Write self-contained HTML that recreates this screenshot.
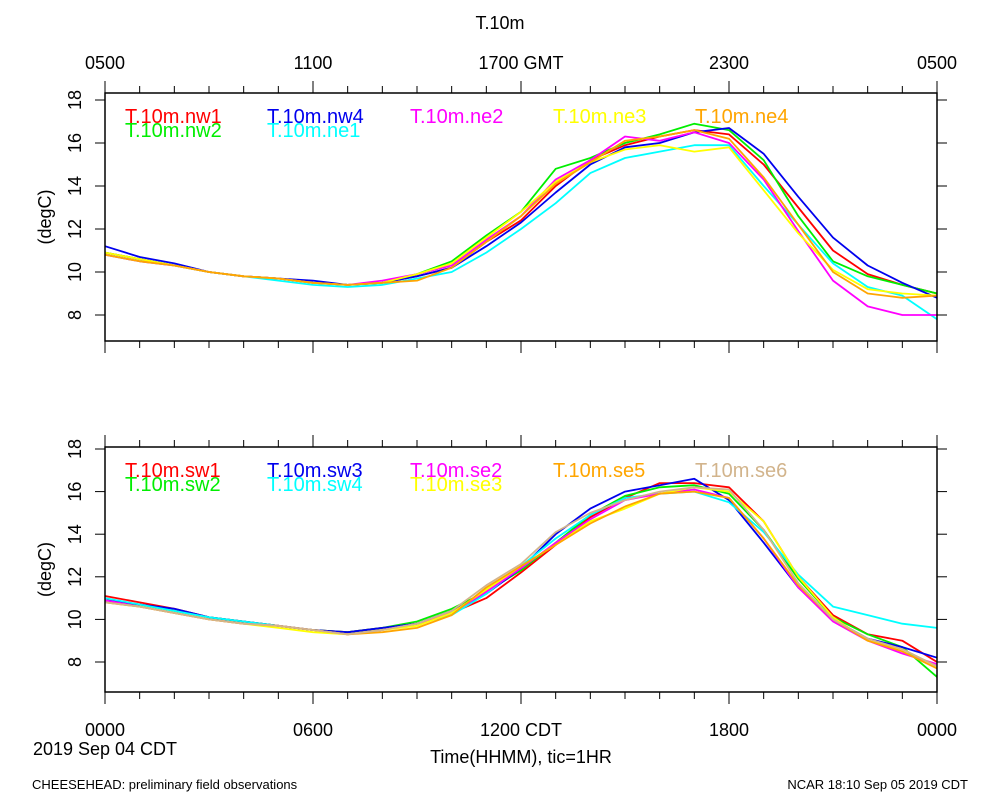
<!DOCTYPE html>
<html><head><meta charset="utf-8">
<style>
body{margin:0;background:#fff;}
svg{display:block;font-family:"Liberation Sans",sans-serif;}
</style></head>
<body>
<svg id="chart" width="1000" height="800" viewBox="0 0 1000 800">
<text x="500" y="29" font-size="18" text-anchor="middle">T.10m</text>
<g id="top-labels" font-size="18" text-anchor="middle"></g>
<g id="panel-top"></g>
<g id="panel-bottom"></g>
<text x="105" y="755" font-size="18" text-anchor="middle">2019 Sep 04 CDT</text>
<text x="521" y="763" font-size="18" text-anchor="middle">Time(HHMM), tic=1HR</text>
<text x="32" y="789" font-size="13">CHEESEHEAD: preliminary field observations</text>
<text x="968" y="789" font-size="13" text-anchor="end">NCAR 18:10 Sep 05 2019 CDT</text>
</svg>
<script>
const hours = [0,1,2,3,4,5,6,7,8,9,10,11,12,13,14,15,16,17,18,19,20,21,22,23,24];
const topTickLabels = ["0500","1100","1700 GMT","2300","0500"];
const bottomTickLabels = ["0000","0600","1200 CDT","1800","0000"];
const yTicks = [8,10,12,14,16,18];

const topNames = ["T.10m.nw1","T.10m.nw2","T.10m.nw4","T.10m.ne1","T.10m.ne2","T.10m.ne3","T.10m.ne4"];
const topColors = ["#ff0000","#00ee00","#0000ee","#00ffff","#ff00ff","#ffff00","#ffa500"];
const nw1 = [10.9,10.6,10.3,10.0,9.8,9.7,9.5,9.4,9.5,9.8,10.2,11.4,12.4,14.0,15.2,15.9,16.3,16.6,16.4,15.0,13.0,11.0,9.9,9.4,9.0];
const nw2 = [10.9,10.6,10.3,10.0,9.8,9.7,9.5,9.4,9.5,9.9,10.5,11.7,12.8,14.8,15.3,16.0,16.4,16.9,16.6,15.2,12.6,10.5,9.8,9.4,9.0];
const nw4 = [11.2,10.7,10.4,10.0,9.8,9.7,9.6,9.4,9.5,9.8,10.2,11.2,12.3,13.7,15.0,15.8,16.0,16.5,16.7,15.5,13.5,11.6,10.3,9.5,8.8];
const ne1 = [10.8,10.5,10.3,10.0,9.8,9.6,9.4,9.3,9.4,9.7,10.0,10.9,12.0,13.2,14.6,15.3,15.6,15.9,15.9,14.0,12.2,10.4,9.3,8.9,7.8];
const ne2 = [10.8,10.5,10.3,10.0,9.8,9.7,9.5,9.4,9.6,9.9,10.3,11.5,12.6,14.3,15.2,16.3,16.1,16.5,16.0,14.3,11.9,9.6,8.4,8.0,8.0];
const ne3 = [10.9,10.6,10.3,10.0,9.8,9.7,9.5,9.4,9.5,9.9,10.4,11.6,12.8,14.2,15.1,15.7,15.9,15.6,15.8,13.8,11.8,10.1,9.2,9.0,8.9];
const ne4 = [10.8,10.5,10.3,10.0,9.8,9.7,9.5,9.4,9.5,9.6,10.2,11.4,12.6,14.1,15.1,16.1,16.3,16.6,16.2,14.4,12.2,10.0,9.0,8.8,8.9];
const topSeries = [nw1,nw2,nw4,ne1,ne2,ne3,ne4];

const botNames = ["T.10m.sw1","T.10m.sw2","T.10m.sw3","T.10m.sw4","T.10m.se2","T.10m.se3","T.10m.se5","T.10m.se6"];
const botColors = ["#ff0000","#00ee00","#0000ee","#00ffff","#ff00ff","#ffff00","#ffa500","#d2b48c"];
const sw1 = [11.1,10.8,10.5,10.1,9.9,9.7,9.5,9.4,9.6,9.8,10.3,11.0,12.2,13.5,14.8,15.7,16.4,16.4,16.2,14.6,12.0,10.2,9.3,9.0,8.0];
const sw2 = [10.9,10.7,10.4,10.1,9.9,9.7,9.5,9.4,9.6,9.9,10.5,11.3,12.3,13.6,14.9,15.8,16.2,16.3,15.9,14.2,11.9,10.1,9.3,8.7,7.3];
const sw3 = [10.9,10.7,10.5,10.1,9.9,9.7,9.5,9.4,9.6,9.8,10.4,11.2,12.4,14.0,15.2,16.0,16.3,16.6,15.6,13.6,11.5,10.0,9.1,8.7,8.2];
const sw4 = [11.0,10.7,10.4,10.1,9.9,9.7,9.5,9.3,9.5,9.8,10.2,11.2,12.5,13.8,14.9,15.7,15.9,16.0,15.5,14.1,12.1,10.6,10.2,9.8,9.6];
const se2 = [10.9,10.6,10.3,10.0,9.8,9.7,9.5,9.3,9.5,9.8,10.3,11.3,12.4,13.6,14.7,15.6,15.9,16.1,15.7,13.8,11.5,9.9,9.0,8.4,7.9];
const se3 = [10.8,10.6,10.3,10.0,9.8,9.6,9.4,9.3,9.5,9.7,10.3,11.4,12.5,13.5,14.6,15.2,15.9,16.2,16.0,14.6,12.0,10.1,9.0,8.6,7.8];
const se5 = [10.8,10.6,10.3,10.0,9.8,9.7,9.5,9.3,9.4,9.6,10.2,11.5,12.5,13.5,14.5,15.3,15.9,16.0,15.7,13.8,11.6,10.0,9.0,8.5,7.7];
const se6 = [10.8,10.6,10.3,10.0,9.8,9.7,9.5,9.3,9.5,9.8,10.4,11.6,12.6,14.1,15.0,15.6,16.0,16.2,16.1,14.2,11.7,10.0,9.1,8.6,7.8];
const botSeries = [sw1,sw2,sw3,sw4,se2,se3,se5,se6];

const NS = "http://www.w3.org/2000/svg";
const X0 = 105, X1 = 937;
function xScale(h){ return X0 + (X1 - X0) * h / 24; }
function mk(tag, attrs, parent){
  const e = document.createElementNS(NS, tag);
  for (const k in attrs) e.setAttribute(k, attrs[k]);
  parent.appendChild(e);
  return e;
}

function drawPanel(g, top, bottom, y18, y8, series, colors, names, tickLabels, prefix){
  const ppu = (y8 - y18) / 10;
  const yScale = v => y8 - (v - 8) * ppu;
  series.forEach((s, i) => {
    const d = s.map((v, j) => (j ? "L" : "M") + xScale(hours[j]).toFixed(1) + "," + yScale(v).toFixed(1)).join(" ");
    const p = mk("path", {d: d, fill: "none", stroke: colors[i], "stroke-width": 1.8, "stroke-linejoin": "round"}, g);
    
    
  });
  const f = mk("rect", {x: X0, y: top, width: X1 - X0, height: bottom - top, fill: "none", stroke: "#000", "stroke-width": 1.5}, g);
  
  
  for (let h = 0; h <= 24; h++){
    const x = xScale(h), len = h % 6 === 0 ? 12 : 7;
    const t1 = mk("line", {x1: x, x2: x, y1: top, y2: top - len, stroke: "#000", "stroke-width": 1}, g);
    
    
    const t2 = mk("line", {x1: x, x2: x, y1: bottom, y2: bottom + len, stroke: "#000", "stroke-width": 1}, g);
    
    
  }
  yTicks.forEach(v => {
    const y = yScale(v);
    const a = mk("line", {x1: X0, x2: X0 - 10, y1: y, y2: y, stroke: "#000", "stroke-width": 1}, g);
    
    
    const b = mk("line", {x1: X1, x2: X1 + 10, y1: y, y2: y, stroke: "#000", "stroke-width": 1}, g);
    
    
    const t = mk("text", {x: 0, y: 0, "font-size": 18, "text-anchor": "middle", transform: "translate(81," + y + ") rotate(-90)"}, g);
    t.setAttribute("transform", "translate(81," + y + ") rotate(-90)");
    t.setAttribute("transform", "translate(81," + y + ") rotate(-90)");
    t.setAttribute("transform", "translate(" + 81 + "," + y + ") rotate(-90)");
    t.setAttribute("transform", "translate(81," + y + ") rotate(-90)");
    t.setAttribute("transform", "translate(81," + y + ") rotate(-90) translate(0,0)");
    t.setAttribute("transform", "translate(" + (81) + "," + y + ") rotate(-90)");
    t.setAttribute("transform", "translate(75," + y + ") rotate(-90) translate(0,6)");
    t.textContent = String(v);
    
    
  });
  const yt = mk("text", {x: 0, y: 0, "font-size": 18, "text-anchor": "middle", transform: "translate(51," + ((top + bottom) / 2) + ") rotate(-90)"}, g);
  yt.textContent = "(degC)";
  
  
  if (tickLabels){
    tickLabels.forEach((l, i) => {
      const t = mk("text", {x: xScale(i * 6), y: bottom + 44, "font-size": 18, "text-anchor": "middle"}, g);
      t.textContent = l;
      
      
    });
  }
}

drawPanel(document.getElementById("panel-top"), 93, 341, 100, 315, topSeries, topColors, topNames, null, "top");
drawPanel(document.getElementById("panel-bottom"), 447, 692, 449, 662, botSeries, botColors, botNames, bottomTickLabels, "bottom");

function legend(g, top, entries){
  entries.forEach(en => {
    const t = mk("text", {x: en[1], y: top + en[2], "font-size": 20, fill: en[3]}, g);
    t.textContent = en[0];
    
    
  });
}
legend(document.getElementById("panel-top"), 93, [
  [topNames[0],125,30,topColors[0]],[topNames[1],125,44,topColors[1]],
  [topNames[2],267,30,topColors[2]],[topNames[3],267,44,topColors[3]],
  [topNames[4],410,30,topColors[4]],[topNames[5],553,30,topColors[5]],[topNames[6],695,30,topColors[6]]]);
legend(document.getElementById("panel-bottom"), 447, [
  [botNames[0],125,30,botColors[0]],[botNames[1],125,44,botColors[1]],
  [botNames[2],267,30,botColors[2]],[botNames[3],267,44,botColors[3]],
  [botNames[4],410,30,botColors[4]],[botNames[5],410,44,botColors[5]],
  [botNames[6],553,30,botColors[6]],[botNames[7],695,30,botColors[7]]]);

const tl = document.getElementById("top-labels");
topTickLabels.forEach((l, i) => {
  const t = mk("text", {x: xScale(i * 6), y: 69}, tl);
  t.textContent = l;
  
  
});
</script>
</body></html>
